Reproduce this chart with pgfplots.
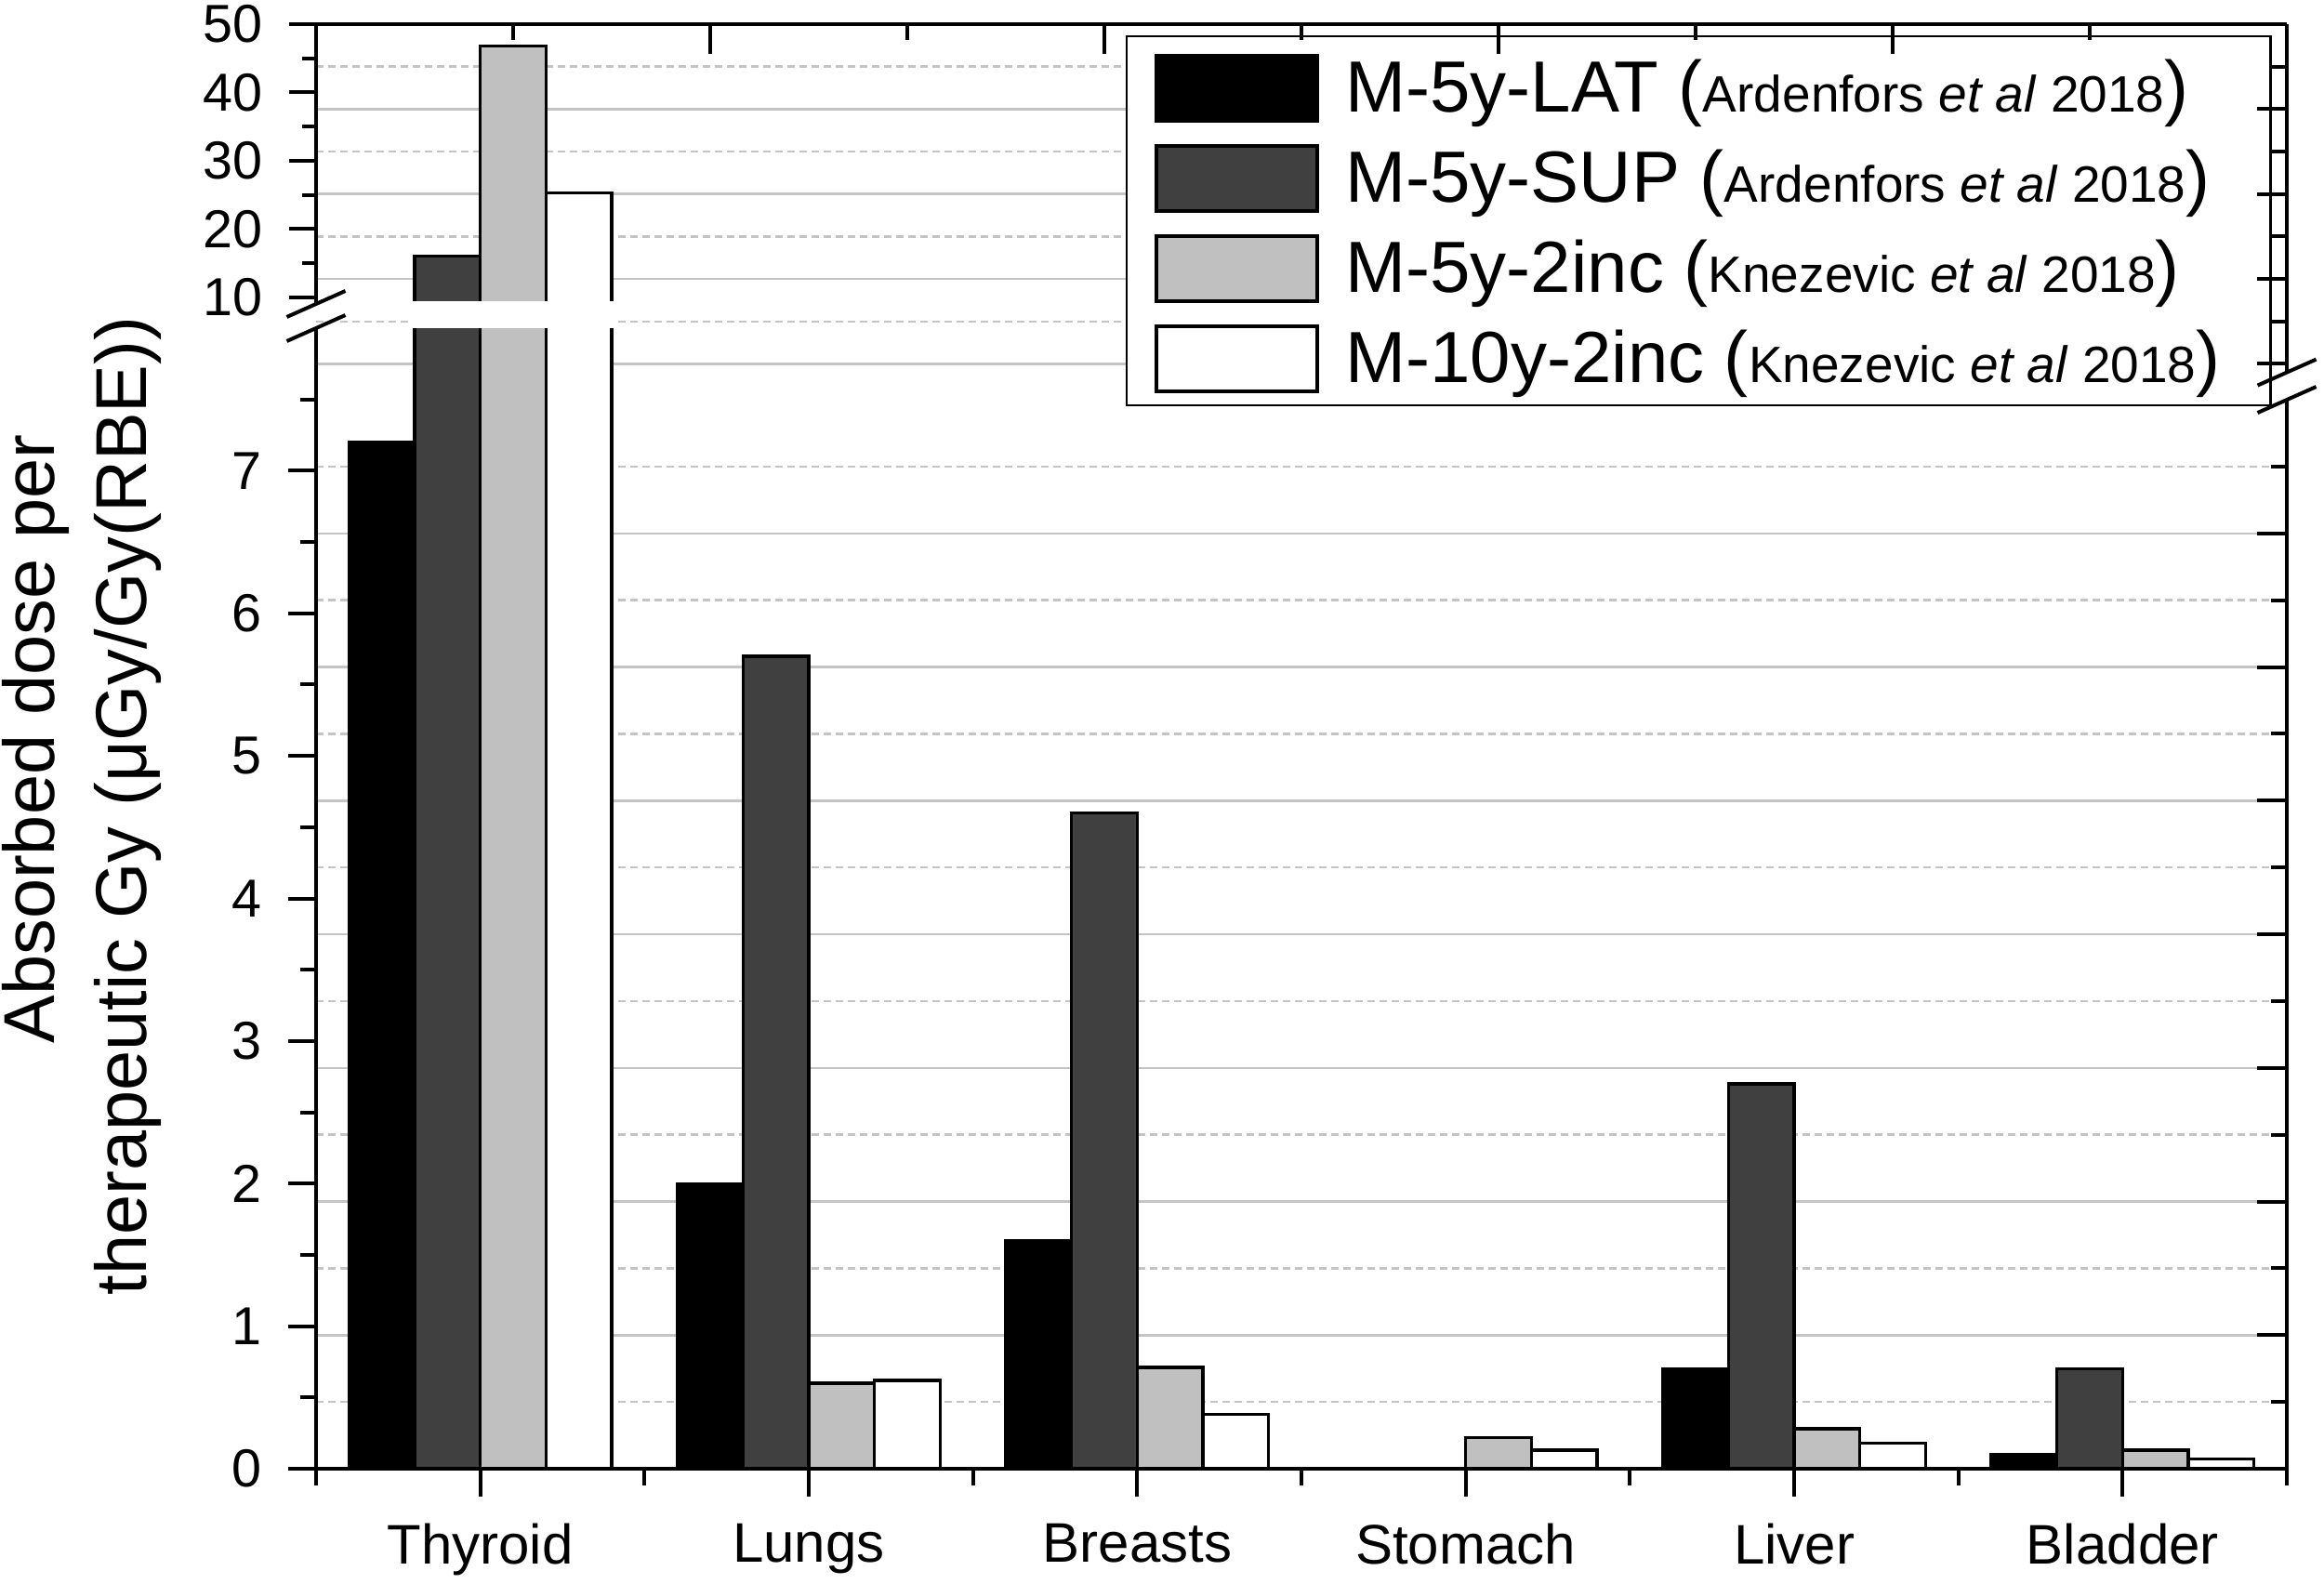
\documentclass[border=0pt]{standalone}
\usepackage{pgfplots}
\pgfplotsset{compat=1.18}
\usepackage{pgfplotstable}
\usepackage{fontspec}
\setmainfont{Liberation Sans}

\pgfplotstableread{
x lat sup inca incb
0 7.2 16.0 46.8 25.3
1 2.0 5.7 0.60 0.62
2 1.6 4.6 0.71 0.38
3 0 0 0.22 0.13
4 0.7 2.7 0.28 0.18
5 0.1 0.7 0.13 0.07
}\datatable

\definecolor{dgray}{RGB}{64,64,64}
\definecolor{lgray}{RGB}{192,192,192}
\definecolor{gridc}{RGB}{196,196,196}

\newcommand{\lgent}[2]{\makebox[193pt][l]{\fontsize{15.6}{18}\selectfont #1 (\fontsize{11}{13}\selectfont #2 \textit{et al} 2018\fontsize{15.6}{18}\selectfont)}}

\pgfplotsset{
  base/.style={scale only axis, width=424pt, xmin=-0.5, xmax=5.5,
    /pgf/number format/assume math mode=true,
    axis line style={line width=0.8pt,black},
    tick style={line width=0.8pt,black}},
  nolabels/.style={xticklabels={,,}, yticklabels={,,}, ticklabel style={opacity=0}},
  gridax/.style={base, nolabels, axis line style={draw=none}, tick style={draw=none},
    major tick length=0pt, minor tick length=0pt,
    xtick=\empty, ymajorgrids, yminorgrids,
    major grid style={gridc, line width=0.5pt},
    minor grid style={gridc, line width=0.5pt, dash pattern=on 1.6pt off 1pt}},
  barax/.style={base, ybar, bar width=0.2, clip mode=individual,
    legend image code/.code={\draw[##1, line width=0.7pt] (0pt,-2pt) rectangle (34.6pt,12pt);}},
  rightax/.style={base, nolabels, axis y line*=right, axis x line=none, tick align=inside,
    major tick length=6.4pt, minor tick length=3.4pt, clip mode=individual},
  p1/.style={draw=black, line width=0.7pt, fill=black, bar shift=-0.3},
  p2/.style={draw=black, line width=0.7pt, fill=dgray, bar shift=-0.1},
  p3/.style={draw=black, line width=0.7pt, fill=lgray, bar shift=0.1},
  p4/.style={draw=black, line width=0.7pt, fill=white, bar shift=0.3},
}

\begin{document}
\begin{tikzpicture}
\useasboundingbox (0,0) rectangle (500pt,340.6pt);

% grid (follows right axis)
\begin{axis}[gridax, at={(68pt,260.48pt)}, anchor=south west, height=74.92pt,
  ymin=9, ymax=50, ytick={10,20,30,40,50}, minor ytick={15,25,35,45}]
\end{axis}
\begin{axis}[gridax, at={(68pt,24.6pt)}, anchor=south west, height=230pt,
  ymin=0, ymax=8, ytick={1,...,7}, minor ytick={0.5,1.5,...,7.5}]
\end{axis}

% lower left: bars
\begin{axis}[barax, at={(68pt,24.6pt)}, anchor=south west, height=245.4pt,
  ymin=0, ymax=8,
  axis x line*=bottom, axis y line*=left, tick align=outside,
  xtick={0,...,5}, minor xtick={-0.5,0.5,...,5.5},
  xticklabels={Thyroid,Lungs,Breasts,Stomach,Liver,Bladder},
  ytick={0,...,7}, minor ytick={0.5,1.5,...,7.5},
  major tick length=6pt, minor tick length=3.5pt,
  xticklabel style={font=\fontsize{12}{14}\selectfont, inner sep=0pt, yshift=-5.6pt},
  yticklabel style={font=\fontsize{11.5}{13}\selectfont, inner sep=0pt, xshift=-5.6pt}]
\addplot[p1] table[x=x,y=lat]{\datatable};
\addplot[p2] table[x=x,y=sup]{\datatable};
\addplot[p3] table[x=x,y=inca]{\datatable};
\addplot[p4] table[x=x,y=incb]{\datatable};
\draw[line width=0.8pt] ([xshift=-6.3pt,yshift=-2.8pt]rel axis cs:0,1) -- ([xshift=6.3pt,yshift=2.8pt]rel axis cs:0,1);
\end{axis}

% upper left: bars above the break + legend
\begin{axis}[barax, at={(68pt,275.2pt)}, anchor=south west, height=60.2pt,
  ymin=9, ymax=50,
  axis x line=none, axis y line*=left, tick align=outside,
  ytick={10,20,30,40,50}, minor ytick={15,25,35,45},
  major tick length=5.8pt, minor tick length=3pt,
  yticklabel style={font=\fontsize{11.5}{13}\selectfont, inner sep=0pt, xshift=-5.6pt},
  legend cell align=left,
  legend style={at={(0.4108,0.9601)}, anchor=north west, draw=black, line width=0.5pt,
    fill=white, inner xsep=6pt, inner ysep=0.9pt, row sep=0pt,
    nodes={inner sep=0pt, text height=15.3pt, text depth=4.1pt, anchor=base west},
    /tikz/every odd column/.append style={column sep=5.8pt}}]
\addplot[p2, forget plot, restrict y to domain=9:100] table[x=x,y=sup]{\datatable};
\addplot[p3, forget plot, restrict y to domain=9:100] table[x=x,y=inca]{\datatable};
\addplot[p4, forget plot, restrict y to domain=9:100] table[x=x,y=incb]{\datatable};
\addlegendimage{p1}
\addlegendentry{\lgent{M-5y-LAT}{Ardenfors}}
\addlegendimage{p2}
\addlegendentry{\lgent{M-5y-SUP}{Ardenfors}}
\addlegendimage{p3}
\addlegendentry{\lgent{M-5y-2inc}{Knezevic}}
\addlegendimage{p4}
\addlegendentry{\lgent{M-10y-2inc}{Knezevic}}
% white gap of the broken bars
\fill[white] ([yshift=0.5pt]axis cs:-0.21,9) rectangle ([yshift=-5.2pt]axis cs:0.41,9);
\draw[line width=0.8pt] ([xshift=-6.3pt,yshift=-2.8pt]rel axis cs:0,0) -- ([xshift=6.3pt,yshift=2.8pt]rel axis cs:0,0);
\end{axis}

% top axis with inward ticks
\begin{axis}[base, nolabels, at={(68pt,275.2pt)}, anchor=south west, height=60.2pt,
  ymin=9, ymax=50, axis y line=none, axis x line*=top, tick align=inside,
  xtick={0.7,1.9,3.1,4.3}, minor xtick={0.1,1.3,2.5,3.7,4.9},
  major tick length=6.4pt, minor tick length=3.5pt]
\end{axis}

% right axes
\begin{axis}[rightax, at={(68pt,260.48pt)}, anchor=south west, height=74.92pt,
  ymin=9, ymax=50, ytick={10,20,30,40,50}, minor ytick={15,25,35,45}]
\draw[line width=0.8pt] ([xshift=-6.3pt,yshift=-2.8pt]rel axis cs:1,0) -- ([xshift=6.3pt,yshift=2.8pt]rel axis cs:1,0);
\end{axis}
\begin{axis}[rightax, at={(68pt,24.6pt)}, anchor=south west, height=230pt,
  ymin=0, ymax=8, ytick={1,...,7}, minor ytick={0.5,1.5,...,7.5}]
\draw[line width=0.8pt] ([xshift=-6.3pt,yshift=-2.8pt]rel axis cs:1,1) -- ([xshift=6.3pt,yshift=2.8pt]rel axis cs:1,1);
\end{axis}

% y label
\node[rotate=90, anchor=base, inner sep=0pt, font=\fontsize{15.5}{18}\selectfont] at (11.6pt,181.6pt) {Absorbed dose per};
\node[rotate=90, anchor=base, inner sep=0pt, font=\fontsize{15.5}{18}\selectfont] at (31.4pt,167.2pt) {therapeutic Gy (μGy/Gy(RBE))};
\end{tikzpicture}
\end{document}
